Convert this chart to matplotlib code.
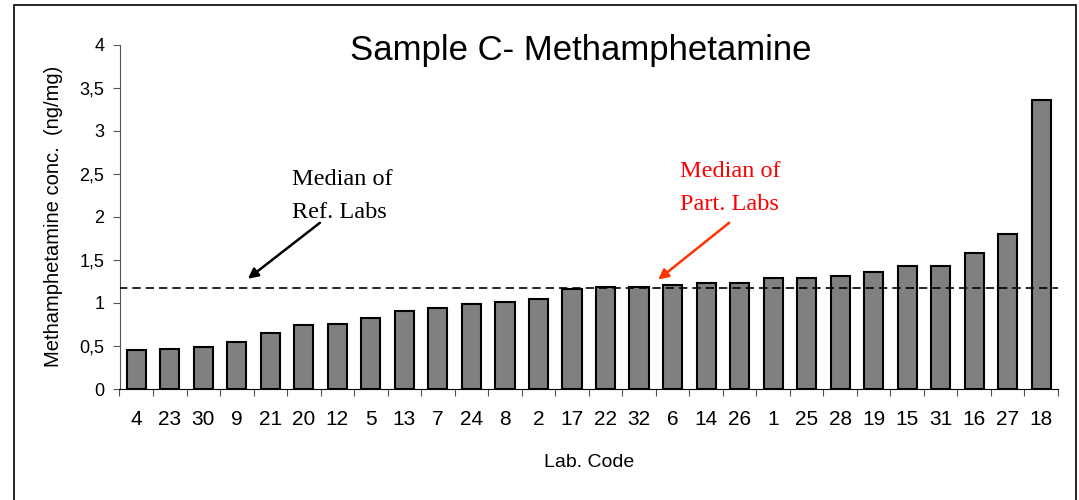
import matplotlib
matplotlib.use("Agg")
import matplotlib.pyplot as plt
import numpy as np
from matplotlib.patches import Rectangle
from matplotlib.ticker import FuncFormatter, MultipleLocator

# ---------------------------------------------------------------------------
# Data
# ---------------------------------------------------------------------------
lab_codes = ["4", "23", "30", "9", "21", "20", "12", "5", "13", "7", "24", "8",
             "2", "17", "22", "32", "6", "14", "26", "1", "25", "28", "19",
             "15", "31", "16", "27", "18"]
conc = [0.45, 0.47, 0.49, 0.54, 0.65, 0.74, 0.76, 0.83, 0.90, 0.94, 0.985,
        1.005, 1.05, 1.16, 1.18, 1.18, 1.21, 1.23, 1.23, 1.29, 1.29, 1.31,
        1.36, 1.43, 1.43, 1.58, 1.80, 3.36]
median_ref = 1.167

sans = "Liberation Sans"
serif = "Liberation Serif"

W, H = 1079, 500
fig = plt.figure(figsize=(W / 100, H / 100), dpi=100)

# outer frame like the spreadsheet chart area
fig.patches.append(Rectangle((13.5 / W, -0.1), (1076 - 13.5) / W, 1.1 - 5.5 / H,
                             transform=fig.transFigure, fill=False,
                             edgecolor="black", lw=1.2))

ax = fig.add_axes([119.5 / W, (H - 389) / H, (1058 - 119.5) / W, (389 - 44.5) / H])

x = np.arange(len(lab_codes))
ax.bar(x, conc, width=0.57, color="#808080", edgecolor="black", lw=1.5, zorder=3)

ax.set_xlim(-0.5, len(lab_codes) - 0.5)
ax.set_ylim(0, 4)
ax.plot([-0.5, len(lab_codes) - 0.5], [median_ref, median_ref], color="black",
        ls=(0, (5, 3)), lw=1.2, zorder=4)

ax.spines["top"].set_visible(False)
ax.spines["right"].set_visible(False)
ax.spines["left"].set_color("#555555")
ax.spines["bottom"].set_color("black")

ax.yaxis.set_major_locator(MultipleLocator(0.5))
ax.yaxis.set_major_formatter(FuncFormatter(lambda v, p: f"{v:g}".replace(".", ",")))
ax.tick_params(axis="y", length=5, width=0.8, pad=6, labelsize=13, color="#555555")
for t in ax.get_yticklabels():
    t.set_fontfamily(sans)

# category ticks at boundaries, labels centred
ax.set_xticks(np.arange(-0.5, len(lab_codes)), minor=False)
ax.set_xticklabels([])
ax.set_xticks(x, minor=True)
ax.set_xticklabels(lab_codes, minor=True, fontfamily=sans, fontsize=15)
ax.tick_params(axis="x", which="major", length=5, width=0.8, color="#555555")
ax.tick_params(axis="x", which="minor", length=0, pad=15)

ax.set_xlabel("Lab. Code", fontfamily=sans, fontsize=14, labelpad=18)
ax.set_ylabel("Methamphetamine conc.  (ng/mg)", fontfamily=sans, fontsize=14.5,
              labelpad=12)
ax.text(0.492, 0.955, "Sample C- Methamphetamine", transform=ax.transAxes,
        fontfamily=sans, fontsize=25, ha="center", va="baseline")

# annotations: arrows
ax.annotate("", xy=(3.33, 1.28), xytext=(5.48, 1.93),
            arrowprops=dict(arrowstyle="-|>", color="black", lw=1.8,
                            mutation_scale=15, shrinkA=0, shrinkB=0))
ax.annotate("", xy=(15.57, 1.27), xytext=(17.69, 1.93),
            arrowprops=dict(arrowstyle="-|>", color="#ff3300", lw=1.8,
                            mutation_scale=15, shrinkA=0, shrinkB=0))

# annotations: text lines
ax.text(4.65, 2.37, "Median of", fontfamily=serif, fontsize=17.5, va="baseline")
ax.text(4.65, 1.986, "Ref. Labs", fontfamily=serif, fontsize=17.5, va="baseline")
ax.text(16.22, 2.466, "Median of", fontfamily=serif, fontsize=17.5, color="red",
        va="baseline")
ax.text(16.22, 2.079, "Part. Labs", fontfamily=serif, fontsize=17.5, color="red",
        va="baseline")

fig.savefig("out.png", dpi=100)
